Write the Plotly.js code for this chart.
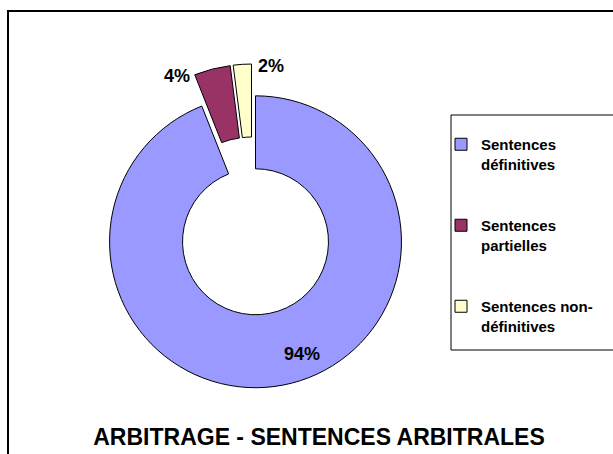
<!DOCTYPE html>
<html>
<head>
<meta charset="utf-8">
<script src="https://cdn.plot.ly/plotly-3.0.1.min.js"></script>
<style>html,body{margin:0;padding:0;background:#fff;}#chart{width:613px;height:454px;}</style>
</head>
<body>
<div id="chart"></div>
<script>
const categories = ["Sentences définitives", "Sentences partielles", "Sentences non-définitives"];
const legendLabels = ["Sentences<br>définitives", "Sentences<br>partielles", "Sentences non-<br>définitives"];
const values = [94, 4, 2];
const colors = ["#9999FF", "#993366", "#FFFFCC"];
const chartTitle = "ARBITRAGE - SENTENCES ARBITRALES";

const FONT = "Liberation Sans, Arial, sans-serif";
const W = 613, H = 454;
const total = values.reduce((a, b) => a + b, 0);
const pct = v => Math.round(v / total * 100) + "%";

const trace = {
  type: "pie",
  labels: legendLabels.map(l => l + "<br>\u00a0<br>\u00a0"),
  values: values,
  hovertext: categories,
  sort: false,
  direction: "clockwise",
  rotation: 0,
  hole: 0.5,
  pull: [0.11, 0.11, 0.11],
  marker: { colors: colors, line: { color: "#000000", width: 1 } },
  textinfo: "none",
  domain: { x: [90.5 / W, 414.5 / W], y: [1 - 388 / H, 1 - 64 / H] },
  showlegend: true
};

const labelStyle = { family: FONT, size: 18, color: "#000000", weight: "bold" };
const labelPos = [[302, 354], [177, 76], [271, 66]];

const layout = {
  width: W, height: H,
  margin: { l: 0, r: 0, t: 0, b: 0 },
  paper_bgcolor: "#ffffff",
  plot_bgcolor: "#ffffff",
  font: { family: FONT, color: "#000000" },
  title: {
    text: "<b>" + chartTitle + "</b>",
    font: { family: FONT, size: 23, color: "#000000" },
    x: 319 / W, xanchor: "center",
    y: 1 - 437 / H, yanchor: "middle",
    xref: "paper", yref: "paper"
  },
  legend: {
    x: 441 / W, xanchor: "left",
    y: 1 - 128 / H, yanchor: "top",
    valign: "top",
    bgcolor: "rgba(0,0,0,0)",
    borderwidth: 0,
    font: { family: FONT, size: 15, color: "#000000", weight: "bold" }
  },
  annotations: values.map((v, i) => ({
    text: "<b>" + pct(v) + "</b>", xref: "paper", yref: "paper",
    x: labelPos[i][0] / W, y: 1 - labelPos[i][1] / H,
    xanchor: "center", yanchor: "middle", showarrow: false, font: labelStyle
  })),
  shapes: [
    { type: "rect", xref: "paper", yref: "paper", x0: 8 / W, x1: 1.02, y0: -0.02, y1: 1 - 11 / H,
      line: { color: "#000000", width: 2 }, fillcolor: "rgba(0,0,0,0)", layer: "above" },
    { type: "rect", xref: "paper", yref: "paper", x0: 451 / W, x1: 1.02, y0: 1 - 350 / H, y1: 1 - 115 / H,
      line: { color: "#000000", width: 1 }, fillcolor: "rgba(0,0,0,0)", layer: "below" }
  ]
};

Plotly.newPlot("chart", [trace], layout, { displayModeBar: false, staticPlot: true });
</script>
</body>
</html>
